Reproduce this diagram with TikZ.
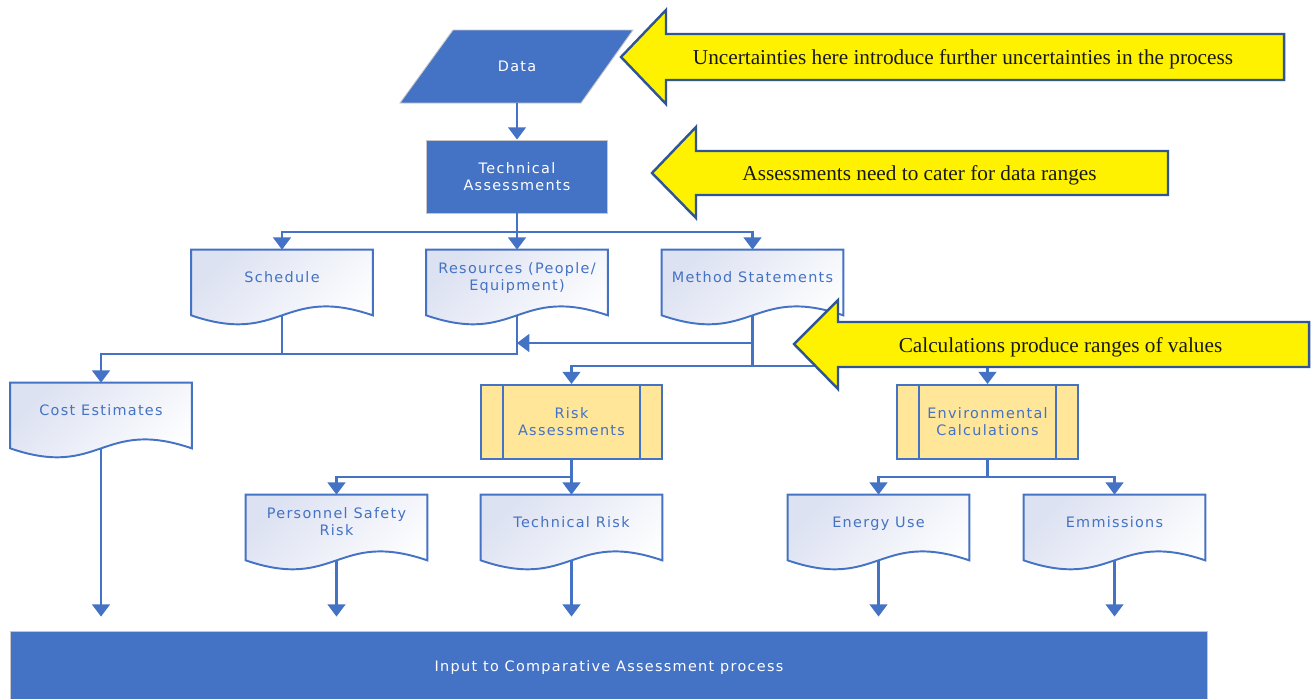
\documentclass[tikz,border=0pt]{standalone}
\usepackage{fontspec}
\usepackage{tikz}
\usetikzlibrary{arrows.meta,positioning,calc}
\newfontfamily\boxfont[LetterSpace=9]{DejaVu Sans}
\newfontfamily\notefont{Liberation Serif}
\definecolor{mainblue}{HTML}{4472C4}
\definecolor{darkblue}{HTML}{2F5597}
\definecolor{procfill}{HTML}{FFE699}
\definecolor{docshade}{HTML}{DDE2F2}
\pgfdeclarelayer{background}
\pgfsetlayers{background,main}

\begin{document}
\begin{tikzpicture}
  [
    x=0.02cm, y=-0.02cm,
    Block/.style={rectangle, fill=mainblue, draw=gray!45, line width=0.5pt, text=white,
      font=\boxfont\fontsize{8.2}{9.7}\selectfont, align=center},
    Doc/.style={rectangle, minimum width=3.62cm, minimum height=1.3cm, inner sep=1pt,
      text depth=6.5pt, text=mainblue, font=\boxfont\fontsize{8.2}{9.7}\selectfont, align=center},
    DocLine/.style={draw=mainblue, line width=1.1pt, top color=docshade, bottom color=white,
      shading angle=45},
    Proc/.style={rectangle, draw=mainblue, line width=1.1pt, fill=procfill,
      minimum width=3.62cm, minimum height=1.48cm, text=mainblue,
      font=\boxfont\fontsize{8.2}{9.7}\selectfont, align=center,
      path picture={
        \draw[mainblue, line width=1.1pt]
          ([xshift=0.44cm]path picture bounding box.north west) -- ([xshift=0.44cm]path picture bounding box.south west)
          ([xshift=-0.44cm]path picture bounding box.north east) -- ([xshift=-0.44cm]path picture bounding box.south east);}},
    Line/.style={draw=mainblue, line width=1.6pt},
    Arrow/.style={Line, -{Triangle[width=10pt,length=7pt]}},
    Note/.style={draw=darkblue, line width=1.4pt, fill=yellow, line join=miter},
    NoteText/.style={font=\notefont\fontsize{12.1}{14}\selectfont, text=black!90}
  ]
  \useasboundingbox (0,0) rectangle (1314,698);
  % Nodes
  \path[fill=mainblue, draw=gray!45, line width=0.5pt] (453,30) -- (633,30) -- (581,103) -- (400,103) -- cycle;
  \node[font=\boxfont\fontsize{8.2}{9.7}\selectfont, text=white, minimum height=1.46cm] (data) at (517,66.5) {Data};
  \node[Block, minimum width=3.62cm, minimum height=1.46cm] (tech) at (517,176.5) {Technical\\Assessments};
  \node[Doc] (sched) at (282,282.5) {Schedule};
  \node[Doc] (res) at (517,282.5) {Resources (People/\\Equipment)};
  \node[Doc] (meth) at (752.5,282.5) {Method Statements};
  \node[Doc] (cost) at (101,415.5) {Cost Estimates};
  \node[Proc] (risk) at (571.5,422) {Risk\\Assessments};
  \node[Proc] (env) at (987.5,422) {Environmental\\Calculations};
  \node[Doc] (pers) at (336.5,527.5) {Personnel Safety\\Risk};
  \node[Doc] (trisk) at (571.5,527.5) {Technical Risk};
  \node[Doc] (energy) at (878.5,527.5) {Energy Use};
  \node[Doc] (emis) at (1114.5,527.5) {Emmissions};
  \node[Block, minimum width=23.96cm, minimum height=1.48cm] (input) at (609,668) {Input to Comparative Assessment process};
  % document outlines
  \begin{pgfonlayer}{background}
    \foreach \n in {sched,res,meth,cost,pers,trisk,energy,emis}
      \path[DocLine] (\n.north west) -- (\n.north east) -- (\n.south east)
        .. controls +(-90.5,-31) and +(90.5,31) .. (\n.south west) -- cycle;
  \end{pgfonlayer}
  % Junctions
  \coordinate (j1) at (517,232);
  \coordinate (j2) at (517,354);
  \coordinate (j3) at (752.5,366);
  \coordinate (j4) at (752.5,343);
  \coordinate (j5) at (571.5,477);
  \coordinate (j6) at (987.5,477);
  % Lines
  \path [Arrow] (data) -- (tech);
  \path [Line] (tech) -- (j1);
  \path [Arrow] (j1) -| (sched);
  \path [Arrow] (j1) -- (res);
  \path [Arrow] (j1) -| (meth);
  \path [Line] (sched.south) -- (sched.south |- j2);
  \path [Arrow] (res.south) -- (j2) -| (cost);
  \path [Line] (meth.south) -- (j3);
  \path [Arrow] (j4) -- (res.south |- j4);
  \path [Arrow] (j3) -| (risk);
  \path [Arrow] (j3) -| (env);
  \path [Line] (risk) -- (j5);
  \path [Arrow] (j5) -| (pers);
  \path [Arrow] (j5) -- (trisk);
  \path [Line] (env) -- (j6);
  \path [Arrow] (j6) -| (energy);
  \path [Arrow] (j6) -| (emis);
  \foreach \n in {cost,pers,trisk,energy,emis}
    \path [Arrow, shorten >=0.28cm] (\n.south) -- (\n.south |- input.north);
  % Notes
  \path[Note] (621,57) -- (666,10) -- (666,34) -- (1284,34) -- (1284,80) -- (666,80) -- (666,104) -- cycle;
  \node[NoteText] (note1) at (963,59.5) {Uncertainties here introduce further uncertainties in the process};
  \path[Note] (652,173) -- (696,127) -- (696,151) -- (1168,151) -- (1168,195) -- (696,195) -- (696,218) -- cycle;
  \node[NoteText] (note2) at (919.5,175.5) {Assessments need to cater for data ranges};
  \path[Note] (794,344) -- (838,300) -- (838,322) -- (1309,322) -- (1309,367) -- (838,367) -- (838,389) -- cycle;
  \node[NoteText] (note3) at (1060.5,347) {Calculations produce ranges of values};
\end{tikzpicture}
\end{document}
